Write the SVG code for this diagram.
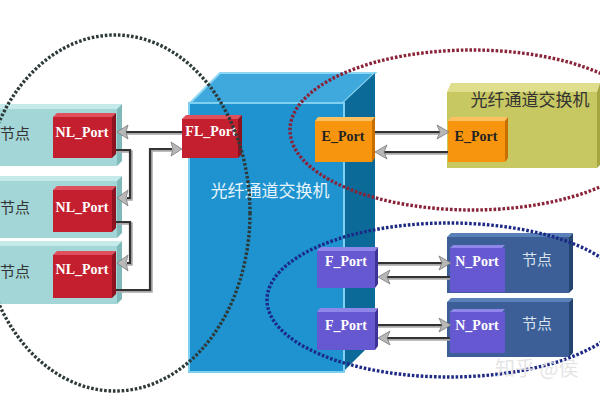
<svg xmlns="http://www.w3.org/2000/svg" width="600" height="400" viewBox="0 0 600 400">
<defs>
<style>
.cn{font-family:"Noto Sans CJK SC","Noto Sans",sans-serif;}
.pt{font-family:"Liberation Serif","Times New Roman",serif;font-weight:bold;font-size:14px;text-anchor:middle;}
.w{fill:#ffffff;}
.d{fill:#222222;}
.ln{fill:none;stroke:#333;stroke-width:2.2;}
.sh{fill:none;stroke:#a8a8a8;stroke-width:2.5;}
.ah{fill:#b8b8b8;stroke:#7a7a7a;stroke-width:0.8;}
.ell{fill:none;stroke-width:3.4;stroke-dasharray:2.6 1.8;}
</style>
</defs>
<rect width="600" height="400" fill="#ffffff"/>

<!-- central switch -->
<g id="switch">
<polygon points="190,103 220,73 375,73 343,103" fill="#3fa9dd" stroke="#8fd6f4" stroke-width="2"/>
<polygon points="343,103 375,73 375,340 343,372" fill="#0c6a98"/>
<rect x="189" y="103" width="155" height="269" fill="#1e93cf" stroke="#7fd0f0" stroke-width="2"/>
<text class="cn" x="270" y="197" font-size="17" fill="#e6f4fb" text-anchor="middle">光纤通道交换机</text>
</g>

<!-- left nodes -->
<g id="node-left-1">
<polygon points="0,109 117,109 122,104 0,104" fill="#c6eaea"/>
<polygon points="117,109 122,104 122,161 117,166" fill="#7fb9b9"/>
<rect x="0" y="109" width="117" height="57" fill="#a3d6d6"/>
<text class="cn" x="0" y="139" font-size="15" fill="#333">节点</text>
</g>
<g id="node-left-2">
<polygon points="0,181 117,181 122,176 0,176" fill="#c6eaea"/>
<polygon points="117,181 122,176 122,233 117,238" fill="#7fb9b9"/>
<rect x="0" y="181" width="117" height="57" fill="#a3d6d6"/>
<text class="cn" x="0" y="213" font-size="15" fill="#333">节点</text>
</g>
<g id="node-left-3">
<polygon points="0,246 117,246 122,241 0,241" fill="#c6eaea"/>
<polygon points="117,246 122,241 122,299 117,304" fill="#7fb9b9"/>
<rect x="0" y="246" width="117" height="58" fill="#a3d6d6"/>
<text class="cn" x="0" y="277" font-size="15" fill="#333">节点</text>
</g>

<!-- NL ports -->
<g id="nl-port-1">
<polygon points="53,117 112,117 116,113 57,113" fill="#e0505c"/>
<polygon points="112,117 116,113 116,154 112,158" fill="#8e1320"/>
<rect x="53" y="117" width="59" height="41" fill="#c41f2e"/>
<text class="pt w" x="82" y="137">NL_Port</text>
</g>
<g id="nl-port-2">
<polygon points="53,190 112,190 116,186 57,186" fill="#e0505c"/>
<polygon points="112,190 116,186 116,228 112,232" fill="#8e1320"/>
<rect x="53" y="190" width="59" height="42" fill="#c41f2e"/>
<text class="pt w" x="82" y="212">NL_Port</text>
</g>
<g id="nl-port-3">
<polygon points="53,255 112,255 116,251 57,251" fill="#e0505c"/>
<polygon points="112,255 116,251 116,294 112,298" fill="#8e1320"/>
<rect x="53" y="255" width="59" height="43" fill="#c41f2e"/>
<text class="pt w" x="82" y="274">NL_Port</text>
</g>

<!-- FL port -->
<g id="fl-port">
<polygon points="182,119 238,119 242,115 186,115" fill="#e0505c"/>
<polygon points="238,119 242,115 242,154 238,158" fill="#8e1320"/>
<rect x="182" y="119" width="56" height="39" fill="#c41f2e"/>
<text class="pt w" x="211" y="136">FL_Port</text>
</g>

<!-- E ports and remote switch -->
<g id="switch-remote">
<polygon points="447,92 451,83 600,83 597,92" fill="#dede8c"/>
<polygon points="597,92 600,83 600,165 597,168" fill="#a6a640"/>
<rect x="447" y="92" width="150" height="76" fill="#c8c862"/>
<text class="cn" x="530" y="106" font-size="17" fill="#333" text-anchor="middle">光纤通道交换机</text>
</g>
<g id="e-port-1">
<polygon points="315,121 372,121 375,117 318,117" fill="#ffc060"/>
<polygon points="372,121 375,117 375,158 372,162" fill="#c96f00"/>
<rect x="315" y="121" width="57" height="41" fill="#f7960e"/>
<text class="pt d" x="343" y="141">E_Port</text>
</g>
<g id="e-port-2">
<polygon points="448,121 505,121 508,117 451,117" fill="#ffc060"/>
<polygon points="505,121 508,117 508,158 505,162" fill="#c96f00"/>
<rect x="448" y="121" width="57" height="41" fill="#f7960e"/>
<text class="pt d" x="476" y="141">E_Port</text>
</g>

<!-- F ports -->
<g id="f-port-1">
<polygon points="317,251 375,251 378,247 320,247" fill="#8f86ea"/>
<polygon points="375,251 378,247 378,284 375,288" fill="#3d3396"/>
<rect x="317" y="251" width="58" height="37" fill="#6658d0"/>
<text class="pt w" x="346" y="266">F_Port</text>
</g>
<g id="f-port-2">
<polygon points="317,312 375,312 378,308 320,308" fill="#8f86ea"/>
<polygon points="375,312 378,308 378,346 375,350" fill="#3d3396"/>
<rect x="317" y="312" width="58" height="38" fill="#6658d0"/>
<text class="pt w" x="346" y="330">F_Port</text>
</g>

<!-- right nodes -->
<g id="node-right-1">
<polygon points="447,237 569,237 573,233 451,233" fill="#5a80b8"/>
<polygon points="569,237 573,233 573,289 569,293" fill="#244470"/>
<rect x="447" y="237" width="122" height="56" fill="#3b5f96"/>
<polygon points="450,248 502,248 505,245 453,245" fill="#8f86ea"/>
<rect x="450" y="248" width="55" height="44" fill="#6658d0"/>
<text class="pt w" x="477" y="266">N_Port</text>
<text class="cn" x="537" y="265" font-size="15" fill="#d8e2f0" text-anchor="middle">节点</text>
</g>
<g id="node-right-2">
<polygon points="447,302 569,302 573,298 451,298" fill="#5a80b8"/>
<polygon points="569,302 573,298 573,353 569,357" fill="#244470"/>
<rect x="447" y="302" width="122" height="55" fill="#3b5f96"/>
<polygon points="450,312 502,312 505,309 453,309" fill="#8f86ea"/>
<rect x="450" y="312" width="55" height="41" fill="#6658d0"/>
<text class="pt w" x="477" y="330">N_Port</text>
<text class="cn" x="537" y="329" font-size="15" fill="#d8e2f0" text-anchor="middle">节点</text>
</g>

<!-- connectors -->
<g id="connectors">
<path class="sh" d="M182,133.5 H126"/>
<path class="ln" d="M182,132 H126"/>
<polygon class="ah" points="117,132 128,125 126,132 128,139"/>
<path class="sh" d="M116,151.5 H131.5 V199.5 H127"/>
<path class="ln" d="M116,150 H130 V198 H127"/>
<polygon class="ah" points="117,198 128,190 126,198 128,206"/>
<path class="sh" d="M116,223.5 H131.5 V264.5 H127"/>
<path class="ln" d="M116,222 H130 V263 H127"/>
<polygon class="ah" points="117,263 128,255 126,263 128,271"/>
<path class="sh" d="M116,291.5 H151.5 V150.5 H172"/>
<path class="ln" d="M116,290 H150 V149 H172"/>
<polygon class="ah" points="182,149 171,142 173,149 171,156"/>
<path class="sh" d="M375,133.5 H440"/>
<path class="ln" d="M375,132 H440"/>
<polygon class="ah" points="449,132 437,125 440,132 437,139"/>
<path class="sh" d="M448,153.5 H383"/>
<path class="ln" d="M448,152 H383"/>
<polygon class="ah" points="375,152 387,145 384,152 387,159"/>
<path class="sh" d="M378,264.5 H442"/>
<path class="ln" d="M378,263 H442"/>
<polygon class="ah" points="451,263 439,256 442,263 439,270"/>
<path class="sh" d="M450,278.5 H386"/>
<path class="ln" d="M450,277 H386"/>
<polygon class="ah" points="378,277 390,270 387,277 390,284"/>
<path class="sh" d="M378,326.5 H442"/>
<path class="ln" d="M378,325 H442"/>
<polygon class="ah" points="451,325 439,318 442,325 439,332"/>
<path class="sh" d="M450,339.5 H386"/>
<path class="ln" d="M450,338 H386"/>
<polygon class="ah" points="378,338 390,331 387,338 390,345"/>
</g>

<!-- dotted ellipses -->
<g id="groups">
<ellipse class="ell" cx="115" cy="213" rx="135" ry="178" stroke="#2e3a3a"/>
<ellipse class="ell" cx="472" cy="130" rx="182" ry="80" stroke="#8a2238"/>
<ellipse class="ell" cx="449" cy="300" rx="182" ry="77" stroke="#1c2a86"/>
</g>

<text class="cn" x="495" y="376" font-size="20" fill="#e0e0e0" fill-opacity="0.85">知乎 @侯</text>
</svg>
